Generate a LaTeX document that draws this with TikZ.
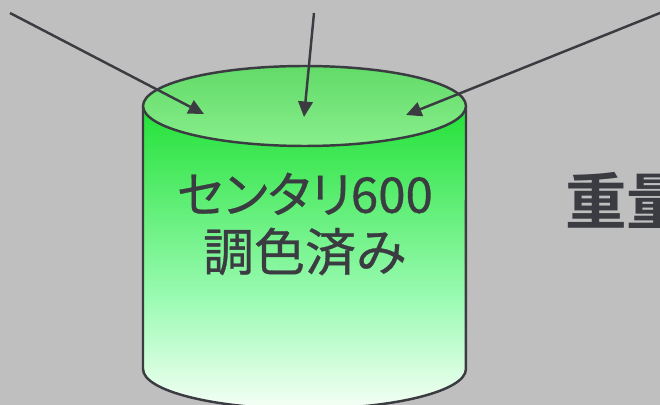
\documentclass[tikz,border=0pt]{standalone}
\usepackage{fontspec}
\usepackage{tikz}
\usetikzlibrary{arrows.meta}
\newfontfamily\jpfont[FakeBold=0.6]{Noto Sans CJK JP}
\newfontfamily\jpnarrow[FakeBold=0.6,RawFeature=+palt]{Noto Sans CJK JP}
\newfontfamily\jpbold{Noto Sans CJK JP Bold}
\definecolor{bg}{HTML}{BFBFBF}
\definecolor{ink}{HTML}{3A3C41}
\definecolor{lidtop}{HTML}{62DB68}
\definecolor{lidbot}{HTML}{88EE8C}
\definecolor{bodytop}{HTML}{1EE032}
\definecolor{bodymid}{HTML}{9CFBB4}
\definecolor{bodybot}{HTML}{F8FFF8}
\tikzset{
  x=0.02cm, y=-0.02cm,
  >={Triangle[length=0.31cm,width=0.29cm]},
  feed/.style={->, ink, line width=1.4pt},
  edge/.style={ink, line width=1.4pt},
  label/.style={ink, font=\jpfont\fontsize{29}{35}\selectfont, align=center},
}

\begin{document}
\begin{tikzpicture}
  \useasboundingbox (0,0) rectangle (660,405);
  \fill[bg] (0,0) rectangle (660,405);
  \clip (0,0) rectangle (660,405);

  % tank body
  \begin{scope}
    \clip (143,106) -- (143,369) arc[start angle=180, end angle=360, x radius=3.23cm, y radius=0.8cm] -- (466,106) -- cycle;
    \fill[top color=bodytop, bottom color=bodymid] (140,100) rectangle (470,300);
    \fill[top color=bodymid, bottom color=bodybot] (140,300) rectangle (470,412);
  \end{scope}
  \draw[edge] (143,106) -- (143,369) arc[start angle=180, end angle=360, x radius=3.23cm, y radius=0.8cm] -- (466,106);

  % lid
  \shade[top color=lidtop, bottom color=lidbot] (304.5,106) ellipse[x radius=3.23cm, y radius=0.8cm];
  \draw[edge] (304.5,106) ellipse[x radius=3.23cm, y radius=0.8cm];

  % labels
  \node[label] (tank) at (305,224) {{\jpnarrow\fontsize{28}{35}\selectfont センタリ600}\\[-2pt]調色済み};
  \node[ink, anchor=west, font=\jpbold\fontsize{35}{40}\selectfont] (weight) at (559,200) {重量};

  % feeds
  \coordinate (srcA) at (10,13);
  \coordinate (srcB) at (314,13);
  \coordinate (srcC) at (670,9);
  \coordinate (dropA) at (204,114);
  \coordinate (dropB) at (304,117);
  \coordinate (dropC) at (406,115);
  \draw[feed] (srcA) -- (dropA);
  \draw[feed] (srcB) -- (dropB);
  \draw[feed] (srcC) -- (dropC);
\end{tikzpicture}
\end{document}
